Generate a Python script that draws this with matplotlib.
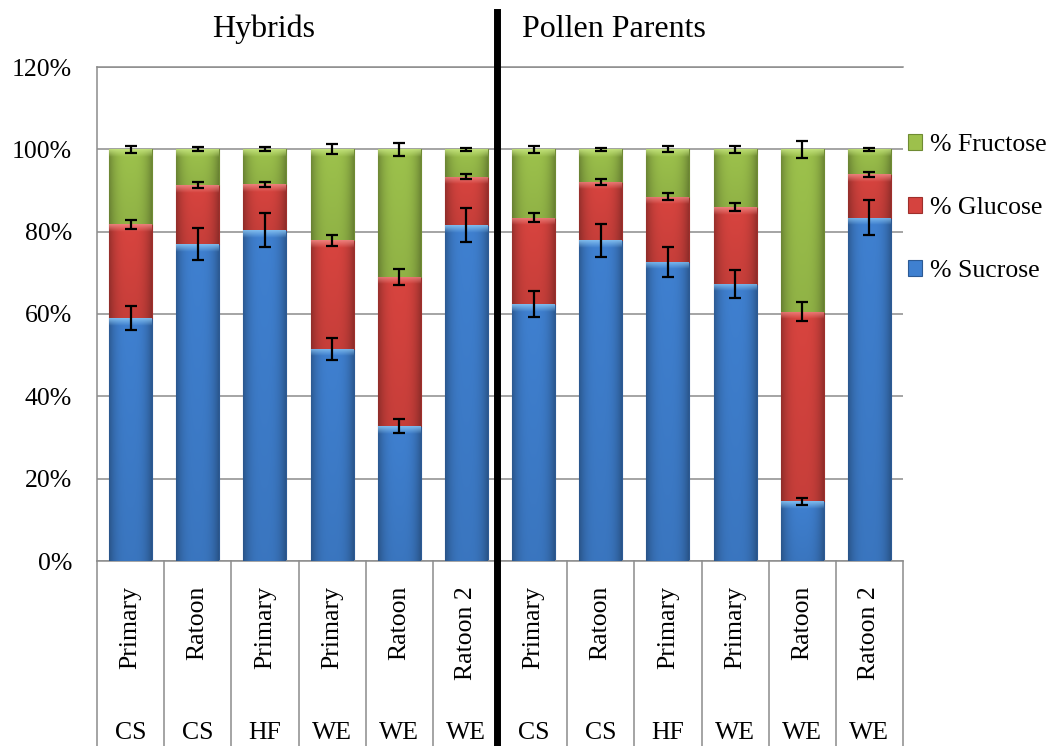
import numpy as np
import matplotlib
matplotlib.use('Agg')
import matplotlib.pyplot as plt
from matplotlib.lines import Line2D
from matplotlib.transforms import blended_transform_factory
from matplotlib.colors import to_rgb

plt.rcParams['font.family'] = ['Liberation Serif', 'DejaVu Serif']

# data (in %)
stages = ['Primary', 'Ratoon', 'Primary', 'Primary', 'Ratoon', 'Ratoon 2',
          'Primary', 'Ratoon', 'Primary', 'Primary', 'Ratoon', 'Ratoon 2']
sites = ['CS', 'CS', 'HF', 'WE', 'WE', 'WE', 'CS', 'CS', 'HF', 'WE', 'WE', 'WE']
sucrose = [59.0, 77.0, 80.4, 51.5, 32.7, 81.6, 62.4, 77.9, 72.7, 67.3, 14.5, 83.4]
glucose = [22.8, 14.3, 11.1, 26.4, 36.3, 11.8, 21.0, 14.2, 15.8, 18.6, 46.1, 10.5]
fructose = [18.2, 8.7, 8.5, 22.1, 31.0, 6.6, 16.6, 7.9, 11.5, 14.1, 39.4, 6.1]
sucrose_err = [3.0, 3.9, 4.1, 2.7, 1.7, 4.1, 3.1, 4.0, 3.6, 3.4, 0.8, 4.2]
glucose_err = [1.1, 0.7, 0.6, 1.4, 1.9, 0.7, 1.1, 0.8, 0.85, 1.0, 2.3, 0.6]
fructose_err = [0.9, 0.5, 0.5, 1.2, 1.6, 0.4, 0.9, 0.4, 0.7, 0.85, 2.0, 0.3]

W, H = 1052, 746
fig = plt.figure(figsize=(W / 100, H / 100), dpi=100)
ax = fig.add_axes([97 / W, 1 - 561 / H, 806 / W, (561 - 67) / H])

x = np.arange(len(stages))
suc = np.array(sucrose)
glu = np.array(glucose)
fru = np.array(fructose)


def shade(ax, bars, base, light):
    # excel-ish bevel: darker sides, light strip on top
    base = np.array(to_rgb(base))
    light = np.array(to_rgb(light))
    for p in bars:
        x0, y0 = p.get_x(), p.get_y()
        w, h = p.get_width(), p.get_height()
        nrows = max(4, int(h * 4))
        cols = np.linspace(-1, 1, 40)
        side = 1.0 - 0.28 * np.abs(cols) ** 3
        img = np.ones((nrows, 40, 3)) * base
        img = img * side[None, :, None]
        vert = np.linspace(0.92, 1.0, nrows)  # bottom darker
        img = img * vert[:, None, None]
        nb = min(7, nrows // 2)
        for r in range(nb):
            t = 1 - r / nb
            row = nrows - 1 - r
            img[row] = img[row] * (1 - 0.8 * t) + light * 0.8 * t
        im = ax.imshow(np.clip(img, 0, 1), extent=(x0, x0 + w, y0, y0 + h),
                       origin='lower', aspect='auto', zorder=3, interpolation='bilinear')
        im.set_clip_path(p)


bw = 0.64
b_suc = ax.bar(x, suc, bw, color='#3F80D0', edgecolor='#2C5A94', linewidth=0.8, zorder=2)
b_glu = ax.bar(x, glu, bw, bottom=suc, color='#D5433F', edgecolor='#9E2F2B', linewidth=0.8, zorder=2)
b_fru = ax.bar(x, fru, bw, bottom=suc + glu, color='#9DC04C', edgecolor='#6F8B33', linewidth=0.8, zorder=2)
shade(ax, b_suc, '#3F80D0', '#8CC8F5')
shade(ax, b_glu, '#D8443F', '#F28C88')
shade(ax, b_fru, '#9DC24C', '#C9E883')

ekw = dict(fmt='none', ecolor='black', elinewidth=1.6, capsize=4, capthick=1.6, zorder=6)
ax.errorbar(x, suc, yerr=sucrose_err, **ekw)
ax.errorbar(x, suc + glu, yerr=glucose_err, **ekw)
ax.errorbar(x, suc + glu + fru, yerr=fructose_err, **ekw)

ax.set_xlim(-0.5, 11.5)
ax.set_ylim(0, 120)
ax.set_yticks(np.arange(0, 121, 20))
ax.set_yticklabels([f'{v}%' for v in range(0, 121, 20)], fontsize=18.5)
ax.yaxis.grid(True, color='#8C8C8C', linewidth=1.1, zorder=0)
ax.set_axisbelow(True)
ax.tick_params(axis='y', length=0, pad=18)
ax.set_xticks(x)
ax.set_xticklabels(stages, rotation=90, fontsize=18.5, va='top', ha='center')
ax.tick_params(axis='x', length=0, pad=18)
ax.spines['right'].set_visible(False)
for s in ['left', 'bottom', 'top']:
    ax.spines[s].set_color('#8C8C8C')
    ax.spines[s].set_linewidth(1.1)

# category table under the axis
tr = blended_transform_factory(ax.transData, fig.transFigure)
ybot = 1 - 561 / H
for b in np.arange(-0.5, 12, 1):
    ax.add_line(Line2D([b, b], [0, ybot], transform=tr, color='#8C8C8C',
                       linewidth=1.1, clip_on=False))
for i, s in enumerate(sites):
    ax.text(i, 1 - 733 / H, s, transform=tr, ha='center', va='center', fontsize=18.5)

# separator between groups
ax.add_line(Line2D([5.455, 5.455], [0, 1 - 12 / H], transform=tr, color='black',
                   linewidth=5, clip_on=False, zorder=10))

fig.text(264 / W, 1 - 37 / H, 'Hybrids', ha='center', va='baseline', fontsize=23)
fig.text(614 / W, 1 - 37 / H, 'Pollen Parents', ha='center', va='baseline', fontsize=23)

ax.legend([b_fru, b_glu, b_suc], ['% Fructose', '% Glucose', '% Sucrose'],
          loc='upper left', bbox_to_anchor=(908 / W, 1 - 134 / H),
          bbox_transform=fig.transFigure, frameon=False, fontsize=18.5,
          handlelength=0.55, handleheight=0.55, handletextpad=0.3,
          labelspacing=1.6, borderpad=0, borderaxespad=0)

fig.savefig('out.png', dpi=100)
